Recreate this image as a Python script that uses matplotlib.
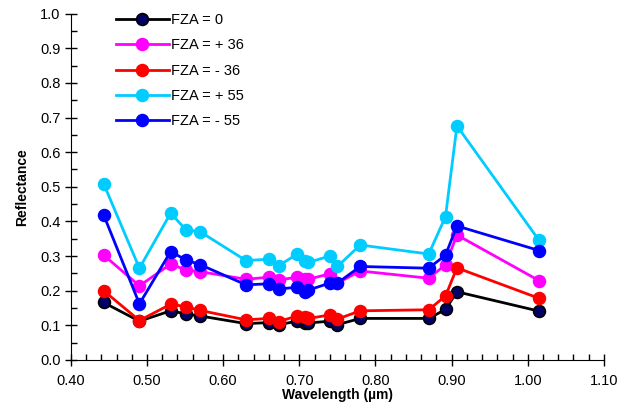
import matplotlib.pyplot as plt
from matplotlib.ticker import MultipleLocator

plt.rcParams['font.family'] = ['Liberation Sans', 'DejaVu Sans']

# 波长 (µm)
wavelength = [0.443, 0.490, 0.531, 0.551, 0.570, 0.630, 0.660, 0.673, 0.697,
              0.707, 0.712, 0.740, 0.750, 0.780, 0.870, 0.892, 0.907, 1.015]

fza_0 = [0.166, 0.112, 0.142, 0.133, 0.127, 0.105, 0.108, 0.102, 0.112,
         0.107, 0.107, 0.112, 0.102, 0.120, 0.120, 0.146, 0.197, 0.141]
fza_p36 = [0.303, 0.214, 0.277, 0.260, 0.255, 0.233, 0.239, 0.231, 0.239,
           0.233, 0.233, 0.249, 0.222, 0.257, 0.236, 0.275, 0.361, 0.229]
fza_m36 = [0.200, 0.114, 0.161, 0.154, 0.143, 0.116, 0.120, 0.111, 0.127,
           0.123, 0.120, 0.130, 0.118, 0.142, 0.145, 0.185, 0.266, 0.178]
fza_p55 = [0.509, 0.265, 0.424, 0.376, 0.370, 0.287, 0.291, 0.272, 0.306,
           0.287, 0.282, 0.300, 0.270, 0.332, 0.306, 0.414, 0.676, 0.345]
fza_m55 = [0.419, 0.162, 0.313, 0.289, 0.275, 0.217, 0.220, 0.205, 0.210,
           0.197, 0.202, 0.222, 0.222, 0.270, 0.265, 0.303, 0.387, 0.316]

labels = ['FZA = 0', 'FZA = + 36', 'FZA = - 36', 'FZA = + 55', 'FZA = - 55']
colors = ['black', '#FF00FF', '#FF0000', '#00CCFF', '#0000FF']
faces = ['#000066', '#FF00FF', '#FF0000', '#00CCFF', '#0000FF']
series = [fza_0, fza_p36, fza_m36, fza_p55, fza_m55]

fig = plt.figure(figsize=(6.33, 4.07), dpi=100)
ax = fig.add_axes([0.112, 0.1155, 0.842, 0.851])

for y, c, fc, lab in zip(series, colors, faces, labels):
    ax.plot(wavelength, y, '-o', color=c, markerfacecolor=fc,
            markeredgecolor=c, markeredgewidth=1.2, markersize=8.5,
            linewidth=2, label=lab)

ax.set_xlim(0.40, 1.10)
ax.set_ylim(0.0, 1.0)
ax.xaxis.set_major_locator(MultipleLocator(0.1))
ax.xaxis.set_minor_locator(MultipleLocator(0.02))
ax.yaxis.set_major_locator(MultipleLocator(0.1))
ax.yaxis.set_minor_locator(MultipleLocator(0.05))
ax.xaxis.set_major_formatter(plt.FormatStrFormatter('%.2f'))
ax.yaxis.set_major_formatter(plt.FormatStrFormatter('%.1f'))

ax.spines['top'].set_visible(False)
ax.spines['right'].set_visible(False)
ax.tick_params(which='major', direction='inout', length=8, width=1,
               labelsize=10.5)
ax.tick_params(which='minor', direction='in', length=4, width=1)
ax.tick_params(axis='x', pad=6)

ax.set_xlabel('Wavelength (µm)', fontsize=10, fontweight='bold', labelpad=0)
ax.set_ylabel('Reflectance', fontsize=10, fontweight='bold', labelpad=8)

ax.legend(loc='upper left', bbox_to_anchor=(0.06, 1.04), frameon=False,
          fontsize=10.5, handlelength=3.6, labelspacing=0.78,
          handletextpad=0.2)

fig.savefig('out.png', dpi=100)
